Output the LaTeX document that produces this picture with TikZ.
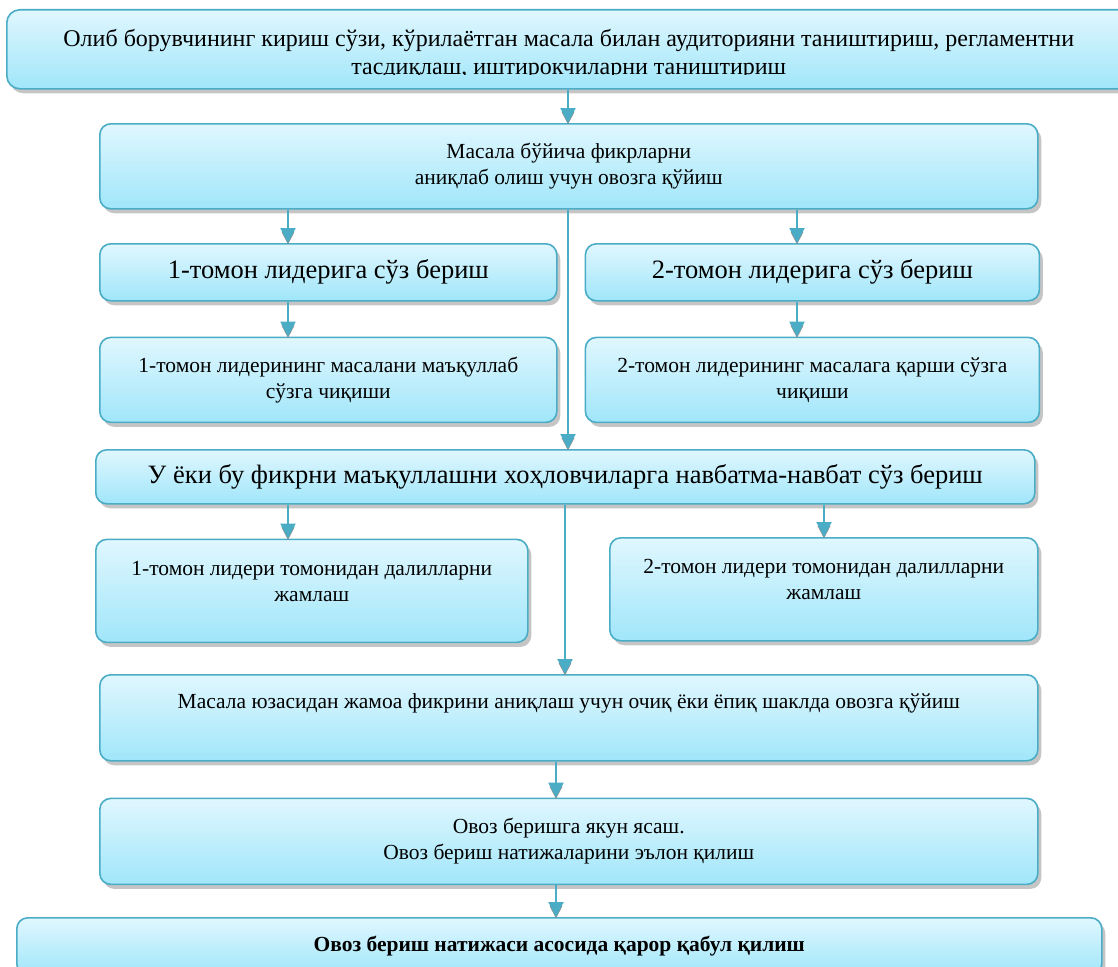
\documentclass[tikz,border=0pt]{standalone}
\usepackage{fontspec}
\setmainfont{Liberation Serif}
\usetikzlibrary{arrows.meta,positioning,shadows}
\definecolor{flowline}{RGB}{75,172,198}
\definecolor{boxtop}{RGB}{224,247,254}
\definecolor{boxbot}{RGB}{160,230,250}
\definecolor{boxshade}{RGB}{140,140,140}

\begin{document}
\begin{tikzpicture}[x=1pt,y=-1pt,
  stagebox/.style={draw=flowline,line width=1.6pt,rounded corners=11pt,top color=boxtop,bottom color=boxbot,
    drop shadow={shadow xshift=3.5pt,shadow yshift=-4.5pt,fill=boxshade},anchor=north west,align=center,
    inner sep=3pt,font=\fontsize{21.5}{26}\selectfont},
  bigtext/.style={font=\fontsize{26.5}{31}\selectfont},
  flow/.style={draw=flowline,line width=2pt,-{Triangle[length=15pt,width=15pt]},
    preaction={draw=boxshade,transform canvas={yshift=-3pt}}}]
\useasboundingbox (0,0) rectangle (1118,966);
% columns of the connectors
\coordinate (colL) at (288,0);
\coordinate (colM) at (568,0);
\coordinate (colR) at (797,0);
\coordinate (colN) at (565,0);
\coordinate (colS) at (824,0);
\coordinate (colB) at (556,0);

\node[stagebox,minimum width=1124pt,minimum height=79pt,rounded corners=13pt] (intro) at (6,9) {};
\begin{scope}
\clip (0,9) rectangle (1118,74);
\node[font=\fontsize{24}{27.5}\selectfont,align=center] (introtext) at ([yshift=-5pt]intro.center)
 {Олиб борувчининг кириш сўзи, кўрилаётган масала билан аудиторияни таништириш, регламентни\\тасдиқлаш, иштирокчиларни таништириш};
\end{scope}
\node[stagebox,minimum width=938pt,minimum height=85pt] (vote) at (99,123) {Масала бўйича фикрларни\\аниқлаб олиш учун овозга қўйиш};
\node[stagebox,bigtext,minimum width=457pt,minimum height=57pt] (lead1) at (99,243) {1-томон лидерига сўз бериш};
\node[stagebox,bigtext,minimum width=454pt,minimum height=57pt,right=27pt of lead1.north east,anchor=north west] (lead2) {2-томон лидерига сўз бериш};
\node[stagebox,minimum width=457pt,minimum height=85pt,below=35pt of lead1.south west,anchor=north west] (speech1) {1-томон лидерининг масалани маъқуллаб\\сўзга чиқиши};
\node[stagebox,minimum width=454pt,minimum height=85pt,below=35pt of lead2.south west,anchor=north west] (speech2) {2-томон лидерининг масалага қарши сўзга\\чиқиши};
\node[stagebox,bigtext,minimum width=939pt,minimum height=54pt] (turns) at (95,449) {У ёки бу фикрни маъқуллашни хоҳловчиларга навбатма-навбат сўз бериш};
\node[stagebox,minimum width=432pt,minimum height=103pt,text depth=19pt,below=34pt of turns.south west,anchor=north west] (sum1) {1-томон лидери томонидан далилларни\\жамлаш};
\node[stagebox,minimum width=428pt,minimum height=103pt,text depth=19pt] (sum2) at (609,537) {2-томон лидери томонидан далилларни\\жамлаш};
\node[stagebox,minimum width=938pt,minimum height=86pt,text depth=33pt] (poll) at (99,674) {Масала юзасидан жамоа фикрини аниқлаш учун очиқ ёки ёпиқ шаклда овозга қўйиш};
\node[stagebox,minimum width=938pt,minimum height=86pt,below=36pt of poll.south west,anchor=north west] (result) {Овоз беришга якун ясаш.\\Овоз бериш натижаларини эълон қилиш};
\node[stagebox,minimum width=1085pt,minimum height=57pt,font=\bfseries\fontsize{21.5}{26}\selectfont] (decision) at (16,917) {Овоз бериш натижаси асосида қарор қабул қилиш};

\draw[flow] (intro.south -| colM) -- (vote.north -| colM);
\draw[flow] (vote.south -| colL) -- (lead1.north -| colL);
\draw[flow] (vote.south -| colR) -- (lead2.north -| colR);
\draw[flow] (vote.south -| colM) -- (turns.north -| colM);
\draw[flow] (lead1.south -| colL) -- (speech1.north -| colL);
\draw[flow] (lead2.south -| colR) -- (speech2.north -| colR);
\draw[flow] (turns.south -| colL) -- (sum1.north -| colL);
\draw[flow] (turns.south -| colS) -- (sum2.north -| colS);
\draw[flow] (turns.south -| colN) -- (poll.north -| colN);
\draw[flow] (poll.south -| colB) -- (result.north -| colB);
\draw[flow] (result.south -| colB) -- (decision.north -| colB);
\end{tikzpicture}
\end{document}
